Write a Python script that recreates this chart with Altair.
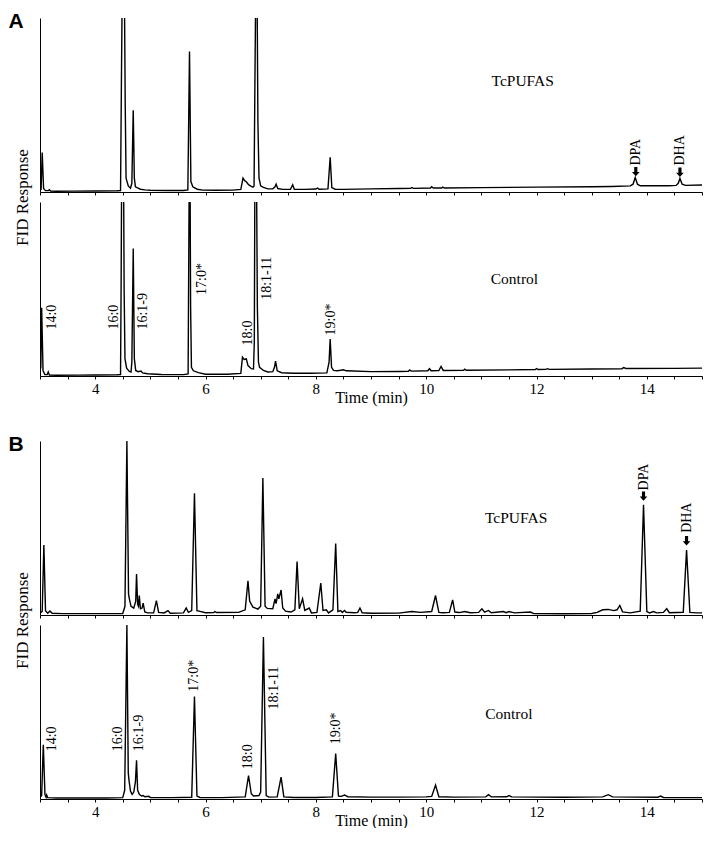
import altair as alt
import pandas as pd

# ---------------- data ----------------
tick_values = [3.0, 3.5, 4.0, 4.5, 5.0, 5.5, 6.0, 6.5, 7.0, 7.5, 8.0, 8.5, 9.0,
               9.5, 10.0, 10.5, 11.0, 11.5, 12.0, 12.5, 13.0, 13.5, 14.0, 14.5, 15.0]

# Panel A, TcPUFAS trace: (time min, response % of panel height)
a_tcpufas = [
    (3.00, 1.0), (3.02, 1.5), (3.04, 22.7), (3.065, 2.0), (3.10, 0.8), (3.15, 0.8), (3.17, 1.3),
    (3.19, 0.6), (3.30, 0.4), (3.60, 0.5), (4.00, 0.6), (4.40, 0.7), (4.46, 0.8),
    (4.475, 60), (4.49, 115), (4.53, 115), (4.545, 50), (4.56, 8), (4.60, 3.5), (4.64, 2.2),
    (4.665, 5), (4.69, 47), (4.71, 8), (4.73, 3), (4.78, 2.2), (4.82, 1.6), (4.90, 1.2),
    (5.00, 1.0), (5.30, 0.9), (5.60, 0.9), (5.68, 1.2), (5.71, 80.7), (5.735, 6), (5.77, 3),
    (5.85, 1.6), (5.95, 1.1), (6.20, 1.0), (6.50, 1.1), (6.64, 1.5), (6.68, 8), (6.71, 6.5),
    (6.74, 5.9), (6.78, 4.2), (6.83, 3.2), (6.86, 2.8), (6.88, 3.5), (6.895, 60), (6.91, 115),
    (6.935, 115), (6.95, 40), (6.97, 8), (7.00, 3.5), (7.05, 2.6), (7.13, 1.8), (7.22, 1.8),
    (7.26, 3), (7.28, 4.5), (7.31, 2), (7.40, 1.5), (7.54, 1.6), (7.58, 4.2), (7.61, 1.6),
    (7.80, 1.5), (8.00, 1.7), (8.03, 2.3), (8.06, 1.6), (8.22, 1.8), (8.26, 20), (8.29, 2.5),
    (8.35, 1.6), (8.50, 1.5), (9.00, 1.8), (9.50, 2.0), (9.72, 2.1), (9.74, 2.6), (9.77, 2.1),
    (10.08, 2.3), (10.10, 3.0), (10.13, 2.3), (10.28, 2.3), (10.30, 2.8), (10.33, 2.3),
    (11.00, 2.5), (12.00, 2.8), (13.00, 3.0), (13.36, 3.2), (13.70, 3.5), (13.75, 4.5),
    (13.79, 8.3), (13.83, 4.5), (13.88, 3.6), (14.40, 3.6), (14.53, 3.8), (14.57, 5.0),
    (14.60, 7.8), (14.64, 4.5), (14.70, 3.8), (15.00, 4.0),
]

# Panel A, Control trace
a_control = [
    (3.00, 3.0), (3.015, 5.0), (3.03, 39.2), (3.055, 3.0), (3.09, 0.8), (3.13, 0.8), (3.15, 2.3),
    (3.17, 0.6), (3.30, 0.4), (3.70, 0.5), (4.00, 0.6), (4.40, 0.7), (4.46, 0.8),
    (4.47, 50), (4.48, 115), (4.515, 115), (4.525, 50), (4.54, 10), (4.57, 4.5), (4.62, 2.6),
    (4.65, 2.3), (4.665, 8), (4.69, 73.3), (4.71, 10), (4.735, 3.2), (4.78, 2.5), (4.83, 2.8),
    (4.86, 1.8), (4.95, 1.3), (5.20, 0.9), (5.60, 0.8), (5.685, 1.2), (5.695, 60), (5.705, 115),
    (5.72, 115), (5.73, 40), (5.745, 5), (5.78, 3), (5.87, 1.9), (6.00, 1.0), (6.40, 1.0),
    (6.64, 1.5), (6.67, 10.8), (6.70, 9.5), (6.74, 9.8), (6.77, 6), (6.83, 4.2), (6.87, 4.0),
    (6.885, 20), (6.895, 115), (6.925, 115), (6.94, 40), (6.96, 8), (6.98, 5), (7.05, 3.2),
    (7.13, 2.3), (7.22, 2.5), (7.25, 5), (7.27, 8.5), (7.30, 3), (7.38, 1.9), (7.60, 1.6),
    (7.90, 1.6), (8.20, 1.8), (8.24, 8), (8.26, 21.2), (8.285, 5), (8.32, 3.2), (8.39, 3.0),
    (8.45, 3.3), (8.50, 3.6), (8.55, 3.0), (9.00, 2.5), (9.50, 2.6), (9.68, 2.7), (9.70, 3.5),
    (9.73, 2.8), (10.03, 3.0), (10.06, 4.2), (10.09, 3.0), (10.23, 3.1), (10.27, 5.5),
    (10.31, 3.2), (10.68, 3.3), (10.70, 3.9), (10.73, 3.3), (11.50, 3.5), (11.98, 3.7),
    (12.00, 4.3), (12.03, 3.7), (12.17, 3.8), (12.20, 4.2), (12.23, 3.8), (13.00, 4.0),
    (13.55, 4.2), (13.58, 4.8), (13.62, 4.3), (14.50, 4.4), (15.00, 4.5),
]

# Panel B, TcPUFAS trace
b_tcpufas = [
    (3.00, 1.0), (3.04, 2.0), (3.07, 40.2), (3.10, 2.5), (3.14, 1.0), (3.18, 2.3), (3.22, 1.0),
    (3.40, 0.8), (3.80, 0.8), (4.20, 0.8), (4.50, 0.9), (4.54, 5), (4.575, 100), (4.605, 12),
    (4.62, 9.3), (4.65, 5), (4.70, 4), (4.735, 8), (4.75, 23.5), (4.77, 6), (4.785, 5),
    (4.80, 11.2), (4.82, 3.6), (4.85, 4), (4.87, 6.8), (4.90, 1.7), (4.95, 1.2), (5.06, 1.2),
    (5.11, 8.3), (5.15, 1.5), (5.25, 1.2), (5.32, 2.5), (5.36, 1.0), (5.60, 1.2), (5.65, 4),
    (5.69, 1.5), (5.75, 2.5), (5.80, 69.9), (5.845, 2.5), (5.90, 2.1), (6.00, 1.3), (6.15, 1.4),
    (6.17, 2.0), (6.20, 1.4), (6.60, 1.5), (6.72, 3), (6.77, 19.7), (6.80, 8), (6.86, 4.5),
    (6.95, 3.4), (7.00, 5), (7.04, 78.8), (7.08, 5), (7.12, 3.8), (7.22, 3.6), (7.26, 9.3),
    (7.28, 6.5), (7.31, 12.1), (7.33, 9.3), (7.37, 14.4), (7.40, 4), (7.45, 2.2), (7.55, 1.7),
    (7.62, 3), (7.66, 30.7), (7.70, 3.6), (7.76, 9.3), (7.80, 2.6), (7.88, 4), (7.92, 1.2),
    (8.02, 1.5), (8.09, 18.4), (8.13, 2.6), (8.19, 3), (8.23, 1.2), (8.31, 3), (8.36, 41.1),
    (8.40, 2), (8.45, 2.6), (8.48, 1.5), (8.52, 2.6), (8.55, 1.6), (8.70, 1.3), (8.76, 1.5),
    (8.80, 4), (8.84, 1.3), (9.00, 1.0), (9.50, 1.1), (9.74, 2.0), (9.90, 1.5), (10.10, 2.0),
    (10.17, 11.2), (10.23, 1.5), (10.30, 1.3), (10.42, 1.5), (10.48, 8.7), (10.52, 1.7),
    (10.60, 1.4), (10.70, 2.0), (10.80, 1.3), (10.95, 1.5), (11.01, 3.6), (11.06, 1.6),
    (11.13, 2.6), (11.18, 1.3), (11.40, 2.0), (11.45, 1.3), (11.50, 2.0), (11.60, 1.2),
    (11.89, 1.7), (11.95, 0.8), (12.50, 0.7), (13.00, 0.9), (13.10, 1.5), (13.20, 3.0),
    (13.30, 3.2), (13.40, 2.5), (13.46, 3.0), (13.51, 5.5), (13.56, 1.8), (13.70, 1.2),
    (13.88, 2.2), (13.94, 63.3), (14.00, 2.0), (14.05, 1.2), (14.12, 2.0), (14.18, 1.2),
    (14.30, 1.5), (14.36, 3.6), (14.41, 1.3), (14.66, 1.6), (14.72, 37.3), (14.78, 1.5),
    (14.90, 1.2), (15.00, 1.2),
]

# Panel B, Control trace
b_control = [
    (3.00, 1.0), (3.03, 2.0), (3.06, 31.2), (3.09, 2.5), (3.11, 1.0), (3.12, 2.3), (3.14, 0.8),
    (3.30, 0.6), (3.80, 0.6), (4.20, 0.6), (4.50, 0.8), (4.535, 5), (4.575, 100), (4.60, 15),
    (4.615, 10.3), (4.64, 4.6), (4.67, 2.7), (4.70, 4), (4.73, 10), (4.75, 22.3), (4.77, 5),
    (4.80, 2.7), (4.84, 1.7), (4.87, 2.0), (4.90, 1.3), (4.97, 1.6), (5.00, 0.9), (5.40, 0.8),
    (5.75, 1.0), (5.80, 58.9), (5.845, 1.7), (5.90, 0.9), (6.30, 0.8), (6.72, 1.2), (6.78, 13.5),
    (6.83, 3.0), (6.87, 1.7), (6.97, 2.0), (7.00, 4), (7.05, 93.1), (7.10, 2.0), (7.15, 1.1),
    (7.30, 1.2), (7.37, 12.6), (7.42, 1.2), (7.60, 0.9), (8.00, 0.9), (8.30, 1.2), (8.36, 26.1),
    (8.41, 1.7), (8.46, 1.5), (8.52, 2.3), (8.58, 1.3), (9.00, 1.1), (9.50, 1.1), (10.00, 1.2),
    (10.10, 1.5), (10.17, 8.0), (10.23, 1.3), (10.50, 1.1), (11.08, 1.2), (11.13, 2.5),
    (11.18, 1.2), (11.46, 1.3), (11.50, 2.0), (11.55, 1.2), (12.50, 1.0), (13.20, 1.2),
    (13.30, 2.5), (13.38, 1.2), (14.20, 1.0), (14.25, 1.7), (14.30, 0.9), (15.00, 0.8),
]

# trace names: (label, time, response)
a_names = [("TcPUFAS", 11.75, 64.0), ("Control", 11.60, 56.0)]
b_names = [("TcPUFAS", 11.63, 56.0), ("Control", 11.50, 49.0)]

# peak labels on Control traces: label, time, response where text starts
peak_labels = ["14:0", "16:0", "16:1-9", "17:0*", "18:0", "18:1-11", "19:0*"]
a_peak_t = [3.22, 4.35, 4.86, 5.93, 6.77, 7.11, 8.27]
a_peak_v = [26.7, 26.7, 26.7, 46.6, 17.6, 43.8, 23.3]
b_peak_t = [3.22, 4.41, 4.80, 5.80, 6.77, 7.24, 8.36]
b_peak_v = [27.4, 27.4, 27.4, 61.7, 17.1, 51.4, 31.4]

# arrow annotations on TcPUFAS traces
pufa_labels = ["DPA", "DHA"]
a_pufa_t = [13.80, 14.60]
a_pufa_tip = [9.0, 8.6]
a_pufa_text = [15.2, 15.2]
b_pufa_t = [13.94, 14.72]
b_pufa_tip = [65.6, 40.0]
b_pufa_text = [71.6, 47.2]

# ---------------- chart ----------------
FONT = "Liberation Serif"
W = 662
H = 174
ARROW = "M-0.35,-2.1L0.35,-2.1L0.35,-0.95L0.85,-0.95L0,0L-0.85,-0.95L-0.35,-0.95Z"

x_scale = alt.Scale(domain=[3, 15], nice=False, zero=False)
y_scale = alt.Scale(domain=[0, 100], nice=False, zero=True)


def x_axis(labels):
    common = dict(values=tick_values, tickSize=3, tickColor="black", tickWidth=1,
                  domainColor="black", domainWidth=1, grid=False)
    if labels:
        return alt.Axis(
            title="Time (min)",
            labelExpr="datum.value % 2 === 0 && datum.value >= 4 && datum.value <= 14 ? format(datum.value, 'd') : ''",
            labelOverlap=False, labelFlush=False, labelFont=FONT, labelFontSize=15,
            labelColor="black", labelPadding=2, titleFont=FONT, titleFontSize=16,
            titleFontWeight="normal", titleColor="black", titlePadding=-7, **common)
    return alt.Axis(title=None, labels=False, **common)


def y_axis(title):
    common = dict(ticks=False, labels=False, grid=False, domainColor="black", domainWidth=1)
    if title:
        return alt.Axis(title="FID Response", titleFont=FONT, titleFontSize=17,
                        titleFontWeight="normal", titleColor="black", titleX=-18,
                        titleY=H + 5, titleAngle=270, titleAlign="center",
                        titleBaseline="middle", **common)
    return alt.Axis(title=None, **common)


def trace(pairs, name, xlab, ytitle, letter=None, pufa=None, peaks=None):
    xa = x_axis(xlab)
    ya = y_axis(ytitle)

    def xy(tf="t", vf="v"):
        return dict(x=alt.X(f"{tf}:Q", scale=x_scale, axis=xa),
                    y=alt.Y(f"{vf}:Q", scale=y_scale, axis=ya))

    df = pd.DataFrame(pairs, columns=["t", "v"])
    line = alt.Chart(df).mark_line(color="black", strokeWidth=1.4, clip=True).encode(**xy())
    layers = [line]
    ndf = pd.DataFrame([name], columns=["label", "t", "v"])
    layers.append(alt.Chart(ndf).mark_text(font=FONT, fontSize=15.5, color="black").encode(
        text="label:N", **xy()))
    if letter:
        ldf = pd.DataFrame({"label": [letter]})
        layers.append(alt.Chart(ldf).mark_text(
            font="Liberation Sans", fontSize=21, fontWeight="bold", color="black",
            align="center", baseline="alphabetic").encode(
            text="label:N", x=alt.value(-24), y=alt.value(10)))
    if pufa:
        ts, tips, tv = pufa
        pdf = pd.DataFrame({"label": pufa_labels, "t": ts, "tip": tips, "tv": tv})
        layers.append(alt.Chart(pdf).mark_point(
            shape=ARROW, filled=True, size=81, color="black", opacity=1, strokeWidth=0).encode(
            **xy("t", "tip")))
        layers.append(alt.Chart(pdf).mark_text(
            font=FONT, fontSize=14, color="black", angle=270, align="left",
            baseline="middle").encode(text="label:N", **xy("t", "tv")))
    if peaks:
        ts, vs = peaks
        kdf = pd.DataFrame({"label": peak_labels, "t": ts, "v": vs})
        layers.append(alt.Chart(kdf).mark_text(
            font=FONT, fontSize=14, color="black", angle=270, align="left",
            baseline="middle").encode(text="label:N", **xy()))
    return alt.layer(*layers).properties(width=W, height=H)


a_top = trace(a_tcpufas, a_names[0], False, True, letter="A",
              pufa=(a_pufa_t, a_pufa_tip, a_pufa_text))
a_bot = trace(a_control, a_names[1], True, False, peaks=(a_peak_t, a_peak_v))
b_top = trace(b_tcpufas, b_names[0], False, True, letter="B",
              pufa=(b_pufa_t, b_pufa_tip, b_pufa_text))
b_bot = trace(b_control, b_names[1], True, False, peaks=(b_peak_t, b_peak_v))

spacer = alt.Chart(pd.DataFrame({"t": [3.0]})).mark_point(opacity=0).encode(
    x=alt.X("t:Q", scale=x_scale, axis=None)).properties(width=W, height=45)

chart = alt.vconcat(a_top, a_bot, spacer, b_top, b_bot, spacing=10, bounds="flush").properties(
    padding={"left": 0, "top": 3, "right": 0, "bottom": 0}
).configure_view(stroke=None)

chart.save("out.html", embed_options={"renderer": "svg", "actions": False})
